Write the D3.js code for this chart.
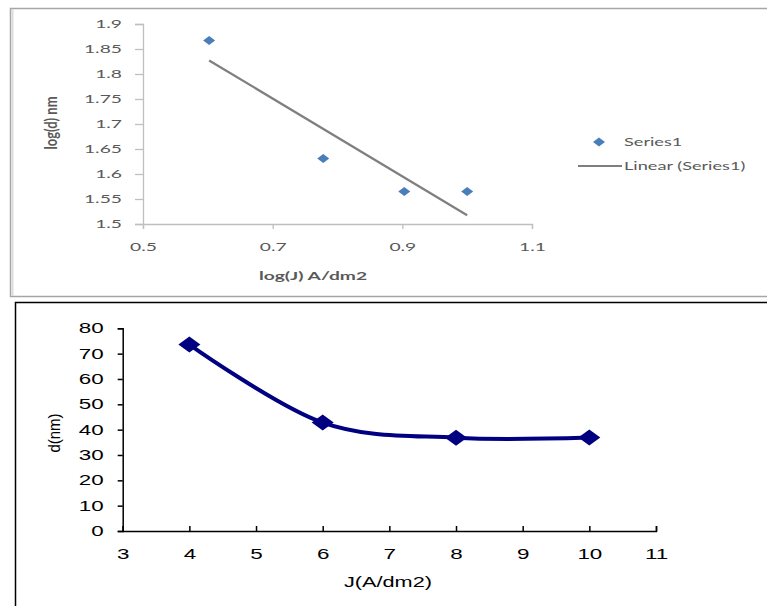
<!DOCTYPE html>
<html lang="en">
<head>
    <meta charset="UTF-8">
    <script src="https://d3js.org/d3.v7.min.js"></script>
    <title>Crystallite size vs current density</title>
    <style>
        body { margin: 0; background: #fff; }
        svg { display: block; }
    </style>
</head>
<body>
    <svg id="chart" width="767" height="606"></svg>
    <script>
        // top chart: log-log data
        const logJ = [0.602, 0.778, 0.903, 1.0];
        const logD = [1.867, 1.631, 1.565, 1.565];
        const logXTicks = [0.5, 0.7, 0.9, 1.1];
        const logYTicks = [1.5, 1.55, 1.6, 1.65, 1.7, 1.75, 1.8, 1.85, 1.9];

        // bottom chart: d vs J
        const currentJ = [4, 6, 8, 10];
        const sizeD = [73.6, 42.8, 36.8, 36.9];
        const jTicks = [3, 4, 5, 6, 7, 8, 9, 10, 11];
        const dTicks = [0, 10, 20, 30, 40, 50, 60, 70, 80];

        const svg = d3.select('#chart');

        // widen text like the stretched source picture
        function stretch(sel, k) {
            sel.each(function () {
                const w = this.getComputedTextLength();
                d3.select(this).attr('textLength', w * k).attr('lengthAdjust', 'spacingAndGlyphs');
            });
        }

        // ---------- top chart ----------
        svg.append('rect')
            .attr('x', 10.5).attr('y', 8.5)
            .attr('width', 770).attr('height', 288)
            .attr('fill', 'none')
            .attr('stroke', '#a6a6a6')
            .attr('stroke-width', 1.5);
        svg.append('line')
            .attr('x1', 12.5).attr('x2', 12.5).attr('y1', 9).attr('y2', 296)
            .attr('stroke', '#dcdcdc').attr('stroke-width', 2);

        const x1 = d3.scaleLinear().domain([0.5, 1.1]).range([143, 532]);
        const y1 = d3.scaleLinear().domain([1.5, 1.9]).range([224, 24]);
        const topFont = 'Lato, "Open Sans", sans-serif';

        const gy1 = svg.append('g')
            .attr('transform', `translate(${x1(0.5)},0)`)
            .call(d3.axisLeft(y1).tickValues(logYTicks).tickSize(8).tickPadding(13)
                .tickFormat(d => String(d)));
        const gx1 = svg.append('g')
            .attr('transform', `translate(0,${y1(1.5)})`)
            .call(d3.axisBottom(x1).tickValues(logXTicks).tickSize(5).tickPadding(14)
                .tickFormat(d => String(d)));
        [gy1, gx1].forEach(g => {
            g.selectAll('path, line').attr('stroke', '#bfbfbf').attr('stroke-width', 1.3);
            g.selectAll('text')
                .attr('font-family', topFont)
                .attr('font-size', 11)
                .attr('fill', '#595959');
            stretch(g.selectAll('text'), 1.75);
        });

        // linear trend line
        const mx = d3.mean(logJ), my = d3.mean(logD);
        const slope = d3.sum(logJ, (v, i) => (v - mx) * (logD[i] - my)) / d3.sum(logJ, v => (v - mx) ** 2);
        const fit = v => my + slope * (v - mx);
        const xr = d3.extent(logJ);
        svg.append('line')
            .attr('x1', x1(xr[0])).attr('y1', y1(fit(xr[0])))
            .attr('x2', x1(xr[1])).attr('y2', y1(fit(xr[1])))
            .attr('stroke', '#7f7f7f')
            .attr('stroke-width', 2.2);

        svg.append('g')
            .selectAll('path')
            .data(logJ)
            .join('path')
            .attr('d', 'M0,-4.5L6,0L0,4.5L-6,0Z')
            .attr('transform', (d, i) => `translate(${x1(d)},${y1(logD[i])})`)
            .attr('fill', '#4a7ebb');

        const xt1 = svg.append('text')
            .attr('x', 313).attr('y', 280)
            .attr('text-anchor', 'middle')
            .attr('font-family', topFont)
            .attr('font-weight', 'bold')
            .attr('font-size', 12)
            .attr('fill', '#595959')
            .text('log(J) A/dm2');
        stretch(xt1, 1.6);

        svg.append('text')
            .attr('transform', 'translate(57,123) scale(1.35,1) rotate(-90)')
            .attr('text-anchor', 'middle')
            .attr('font-family', topFont)
            .attr('font-weight', 'bold')
            .attr('font-size', 13)
            .attr('fill', '#595959')
            .text('log(d) nm');

        // legend
        svg.append('path')
            .attr('d', 'M0,-4.5L6,0L0,4.5L-6,0Z')
            .attr('transform', 'translate(599,142)')
            .attr('fill', '#4a7ebb');
        svg.append('line')
            .attr('x1', 578).attr('x2', 622).attr('y1', 166).attr('y2', 166)
            .attr('stroke', '#7f7f7f').attr('stroke-width', 2.2);
        const leg = svg.append('g')
            .attr('font-family', topFont)
            .attr('font-size', 11)
            .attr('fill', '#595959');
        leg.append('text').attr('x', 624).attr('y', 146).text('Series1');
        leg.append('text').attr('x', 624).attr('y', 170).text('Linear (Series1)');
        stretch(leg.selectAll('text'), 1.65);

        // ---------- bottom chart ----------
        svg.append('rect')
            .attr('x', 15.5).attr('y', 302.5)
            .attr('width', 770).attr('height', 320)
            .attr('fill', 'none')
            .attr('stroke', '#000')
            .attr('stroke-width', 1.5);

        const x2 = d3.scaleLinear().domain([3, 11]).range([122.7, 656]);
        const y2 = d3.scaleLinear().domain([0, 80]).range([531, 328.3]);
        const botFont = '"Liberation Sans", Arial, sans-serif';

        const gy2 = svg.append('g')
            .attr('transform', `translate(${x2(3)},0)`)
            .call(d3.axisLeft(y2).tickValues(dTicks).tickSize(5).tickPadding(14));
        const gx2 = svg.append('g')
            .attr('transform', `translate(0,${y2(0)})`)
            .call(d3.axisBottom(x2).tickValues(jTicks).tickSize(-5).tickPadding(18));
        [gy2, gx2].forEach(g => {
            g.selectAll('path, line').attr('stroke', '#000').attr('stroke-width', 1.5);
            g.selectAll('text')
                .attr('font-family', botFont)
                .attr('font-size', 14)
                .attr('fill', '#000');
            stretch(g.selectAll('text'), 1.6);
        });

        const smooth = d3.line()
            .x((d, i) => x2(currentJ[i]))
            .y(d => y2(d))
            .curve(d3.curveCardinal.tension(0));
        svg.append('path')
            .attr('d', smooth(sizeD))
            .attr('fill', 'none')
            .attr('stroke', '#000080')
            .attr('stroke-width', 4);

        svg.append('g')
            .selectAll('path')
            .data(sizeD)
            .join('path')
            .attr('d', 'M0,-8L11,0L0,8L-11,0Z')
            .attr('transform', (d, i) => `translate(${x2(currentJ[i])},${y2(d)})`)
            .attr('fill', '#000080');

        const xt2 = svg.append('text')
            .attr('x', 388).attr('y', 587)
            .attr('text-anchor', 'middle')
            .attr('font-family', botFont)
            .attr('font-size', 14)
            .attr('fill', '#000')
            .text('J(A/dm2)');
        stretch(xt2, 1.55);

        svg.append('text')
            .attr('transform', 'translate(60,433) scale(1.15,1) rotate(-90)')
            .attr('text-anchor', 'middle')
            .attr('font-family', botFont)
            .attr('font-size', 15)
            .attr('fill', '#000')
            .text('d(nm)');
    </script>
</body>
</html>
